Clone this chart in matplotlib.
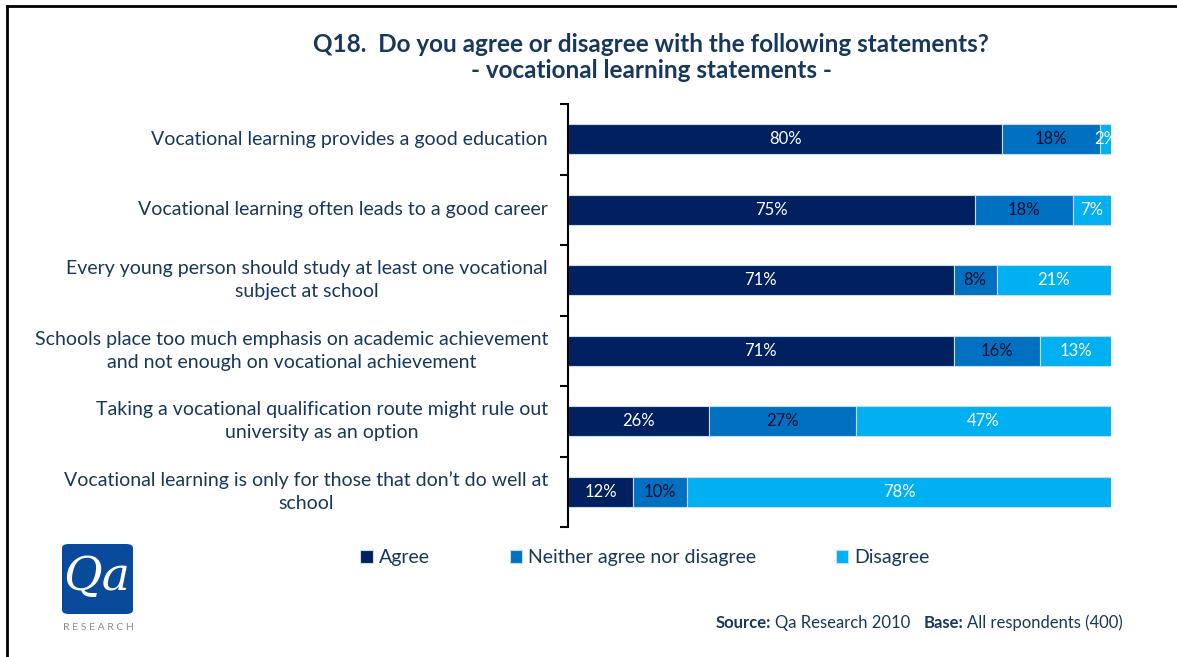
import matplotlib
matplotlib.use("Agg")
import matplotlib.pyplot as plt
from matplotlib.patches import FancyBboxPatch
from matplotlib.lines import Line2D
import numpy as np

plt.rcParams['font.family'] = ['Lato', 'DejaVu Sans']

# survey statements, top to bottom
statements = [
    "Vocational learning provides a good education",
    "Vocational learning often leads to a good career",
    "Every young person should study at least one vocational\nsubject at school",
    "Schools place too much emphasis on academic achievement\nand not enough on vocational achievement",
    "Taking a vocational qualification route might rule out\nuniversity as an option",
    "Vocational learning is only for those that don\u2019t do well at\nschool",
]
agree = [80, 75, 71, 71, 26, 12]
neither = [18, 18, 8, 16, 27, 10]
disagree = [2, 7, 21, 13, 47, 78]
series_names = ["Agree", "Neither agree nor disagree", "Disagree"]

navy = "#002060"
mid = "#0070C0"
light = "#00B0F0"
text_navy = "#17375E"

W, H = 1177, 657
fig = plt.figure(figsize=(W / 100, H / 100), dpi=100)

# slide frame (left and top edges)
fig.add_artist(Line2D([7 / W, 7 / W], [0, 1 - 6 / H], color="black", lw=2))
fig.add_artist(Line2D([7 / W, 1], [1 - 6 / H, 1 - 6 / H], color="black", lw=2))

ax = fig.add_axes([568 / W, 1 - 527 / H, 543 / W, 423 / H])
y = np.arange(len(statements))
h = 0.43
series = [agree, neither, disagree]
colors = [navy, mid, light]
label_colors = ["white", "#0B0B30", "white"]
left = np.zeros(len(statements))
handles = []
for vals, col, lc, name in zip(series, colors, label_colors, series_names):
    vals = np.array(vals, dtype=float)
    b = ax.barh(y, vals, left=left, height=h, color=col, edgecolor="#C5DDF2",
                linewidth=0.8, label=name)
    handles.append(b)
    for yi, l, v in zip(y, left, vals):
        ax.text(l + v / 2, yi, f"{int(v)}%", ha="center", va="center",
                color=lc, fontsize=12)
    left += vals

ax.set_xlim(0, 100)
ax.set_ylim(len(statements) - 0.5, -0.5)
for s in ["top", "right", "bottom"]:
    ax.spines[s].set_visible(False)
ax.spines["left"].set_linewidth(1.5)
ax.set_xticks([])
ax.set_yticks(np.arange(-0.5, len(statements)), minor=False)
ax.set_yticklabels([])
ax.tick_params(axis="y", length=6, width=1.5, direction="out")
for yi, s in zip(y, statements):
    ax.text(-3.7, yi, s, ha="right", va="center", multialignment="center",
            fontsize=14, color=text_navy, linespacing=1.45)

fig.text(651 / W, 1 - 45 / H, "Q18.  Do you agree or disagree with the following statements?",
         ha="center", va="center", fontsize=17.5, fontweight="bold", color=text_navy)
fig.text(651 / W, 1 - 71 / H, "- vocational learning statements -",
         ha="center", va="center", fontsize=17.5, fontweight="bold", color=text_navy)

fig.legend(handles=handles, labels=series_names, loc="center",
           bbox_to_anchor=(645 / W, 1 - 558 / H), ncol=3, frameon=False,
           fontsize=14, handlelength=0.65, handleheight=0.65, handletextpad=0.3,
           columnspacing=4.1, labelcolor=text_navy)

# source line, pieces placed one after another
fig.canvas.draw()
renderer = fig.canvas.get_renderer()
parts = [("Source:", "bold", 4), ("Qa Research 2010", "normal", 13),
         ("Base:", "bold", 4), ("All respondents (400)", "normal", 0)]
x = 716
for txt, wt, gap in parts:
    t = fig.text(x / W, 1 - 623 / H, txt, ha="left", va="center", fontsize=12,
                 fontweight=wt, color=text_navy)
    x += t.get_window_extent(renderer).width + gap

# company logo
logo = FancyBboxPatch((62 / W, 1 - 614 / H), 71 / W, 70 / H,
                      boxstyle="round,pad=0,rounding_size=0.006",
                      transform=fig.transFigure, facecolor="#0A4A9A",
                      edgecolor="none")
fig.add_artist(logo)
fig.text(97 / W, 1 - 577 / H, "Qa", ha="center", va="center", fontsize=34,
         color="white", family="DejaVu Serif", style="italic")
fig.text(98 / W, 1 - 627 / H, "R E S E A R C H", ha="center", va="center",
         fontsize=7.5, color="#8C8C8C")

fig.savefig("out.png", dpi=100)
